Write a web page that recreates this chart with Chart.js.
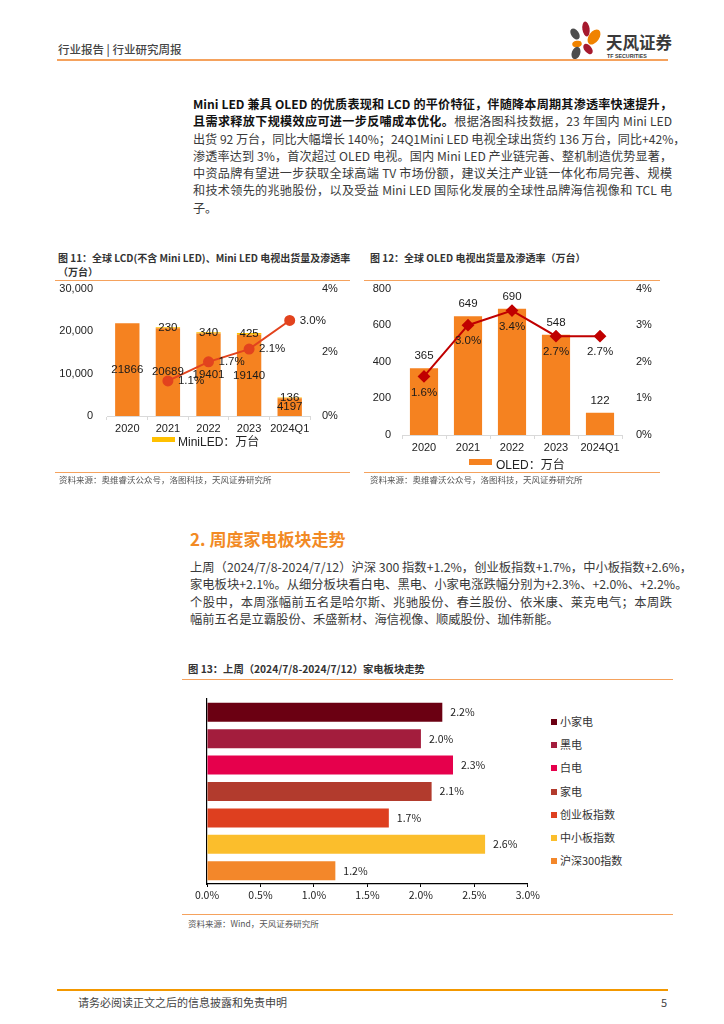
<!DOCTYPE html>
<html lang="zh-CN">
<head>
<meta charset="utf-8">
<title>行业研究周报</title>
<script src="https://cdn.jsdelivr.net/npm/chart.js@4.4.1/dist/chart.umd.min.js"></script>
<style>
  html, body { margin: 0; padding: 0; background: #fff; }
  #page { position: relative; width: 724px; height: 1024px; overflow: hidden;
          font-family: "Noto Sans CJK SC", "Liberation Sans", sans-serif; color: #3a3a3a; }
  .abs { position: absolute; white-space: nowrap; }
  .hline { position: absolute; height: 0; }
  .para div { height: 17.3px; line-height: 17.3px; text-align: justify; text-align-last: justify; white-space: nowrap; }
  .para div.last { text-align-last: left; }
  .ctitle { font-size: 10px; font-weight: bold; color: #333; }
  .src { font-size: 8.5px; color: #555; }
  .lg { position: absolute; font-family: "Liberation Sans", "Noto Sans CJK SC", sans-serif; font-size: 12px; color: #222; white-space: nowrap; }
  .lg i { position: absolute; display: block; }
  .lg span { position: absolute; top: 0; white-space: nowrap; }
  canvas { position: absolute; }
  .leg13 { position: absolute; left: 551px; font-size: 11px; color: #333; }
  .leg13 div { position: absolute; left: 0; white-space: nowrap; height: 14px; line-height: 14px; }
  .leg13 i { display: inline-block; width: 6px; height: 6px; margin-right: 3px; vertical-align: 1px; }
</style>
</head>
<body>
<div id="page">
  <!-- 页眉 -->
  <div class="abs" style="left:58px; top:41px; font-size:11.5px; color:#444; font-weight:500;">行业报告 | 行业研究周报</div>
  <svg class="abs" style="left:566px; top:18px;" width="110" height="46" viewBox="0 0 110 46">
    <ellipse cx="20" cy="11" rx="3.6" ry="7.5" fill="#A6192E" transform="rotate(-8 20 11)"/>
    <ellipse cx="9" cy="16" rx="3.8" ry="6.2" fill="#4D4D4D" transform="rotate(-35 9 16)"/>
    <ellipse cx="28" cy="19" rx="5.2" ry="8.5" fill="#F08300" transform="rotate(35 28 19)"/>
    <ellipse cx="11" cy="26" rx="4.8" ry="3.2" fill="#F08300" transform="rotate(-10 11 26)"/>
    <ellipse cx="10" cy="35" rx="4.2" ry="6.5" fill="#4D4D4D" transform="rotate(20 10 35)"/>
    <ellipse cx="22" cy="31" rx="3.6" ry="6" fill="#A6192E" transform="rotate(-40 22 31)"/>
    <text x="40" y="31" font-size="16.5" font-weight="bold" fill="#3a3a3a" font-family="Noto Sans CJK SC">天风证券</text>
    <text x="41" y="40" font-size="5.3" font-weight="bold" fill="#3a3a3a" font-family="Liberation Sans">TF SECURITIES</text>
  </svg>
  <div class="hline" style="left:57px; width:611px; top:59px; border-top:2px solid #F5A25D;"></div>

  <!-- 正文 1 -->
  <div class="abs para" style="left:193px; top:95px; width:479px; font-size:12.1px;">
    <div style="color:#111; font-weight:bold;">Mini LED 兼具 OLED 的优质表现和 LCD 的平价特征，伴随降本周期其渗透率快速提升，</div>
    <div><b style="color:#111;">且需求释放下规模效应可进一步反哺成本优化。</b>根据洛图科技数据，23 年国内 Mini LED</div>
    <div>出货 92 万台，同比大幅增长 140%；24Q1Mini LED 电视全球出货约 136 万台，同比+42%，</div>
    <div>渗透率达到 3%，首次超过 OLED 电视。国内 Mini LED 产业链完善、整机制造优势显著，</div>
    <div>中资品牌有望进一步获取全球高端 TV 市场份额，建议关注产业链一体化布局完善、规模</div>
    <div>和技术领先的兆驰股份，以及受益 Mini LED 国际化发展的全球性品牌海信视像和 TCL 电</div>
    <div class="last">子。</div>
  </div>

  <!-- 图 11 -->
  <div class="abs ctitle" style="left:58px; top:250px;">图 11：全球 LCD(不含 Mini LED)、Mini LED 电视出货量及渗透率</div>
  <div class="abs ctitle" style="left:58px; top:264px;">（万台）</div>
  <canvas id="chart11" width="300" height="182" style="left:52px; top:268px;"></canvas>
  <div class="hline" style="left:55px; width:295px; top:280px; border-top:1px solid #F5A25D;"></div>
  <div class="lg" style="left:152px; top:432px;"><i style="left:0; top:5px; width:23px; height:5px; background:#FFC000;"></i><span style="left:26px;">MiniLED：万台</span></div>
  <div class="hline" style="left:55px; width:295px; top:472px; border-top:1px solid #F5A25D;"></div>
  <div class="abs src" style="left:59px; top:473px;">资料来源：奥维睿沃公众号，洛图科技，天风证券研究所</div>

  <!-- 图 12 -->
  <div class="abs ctitle" style="left:370px; top:250px;">图 12：全球 OLED 电视出货量及渗透率（万台）</div>
  <canvas id="chart12" width="300" height="199" style="left:362px; top:268px;"></canvas>
  <div class="hline" style="left:364px; width:296px; top:280px; border-top:1px solid #F5A25D;"></div>
  <div class="lg" style="left:469px; top:455px;"><i style="left:0; top:4px; width:23px; height:6px; background:#F58220;"></i><span style="left:27px;">OLED：万台</span></div>
  <div class="hline" style="left:364px; width:296px; top:472px; border-top:1px solid #F5A25D;"></div>
  <div class="abs src" style="left:370px; top:473px;">资料来源：奥维睿沃公众号，洛图科技，天风证券研究所</div>

  <!-- 第 2 节 -->
  <div class="abs" style="left:190px; top:526px; font-size:17px; font-weight:bold; color:#F28A24;">2. 周度家电板块走势</div>
  <div class="abs para" style="left:190px; top:559px; width:482px; font-size:12.3px;">
    <div>上周（2024/7/8-2024/7/12）沪深 300 指数+1.2%，创业板指数+1.7%，中小板指数+2.6%，</div>
    <div>家电板块+2.1%。从细分板块看白电、黑电、小家电涨跌幅分别为+2.3%、+2.0%、+2.2%。</div>
    <div>个股中，本周涨幅前五名是哈尔斯、兆驰股份、春兰股份、依米康、莱克电气；本周跌</div>
    <div class="last">幅前五名是立霸股份、禾盛新材、海信视像、顺威股份、珈伟新能。</div>
  </div>

  <!-- 图 13 -->
  <div class="abs ctitle" style="left:188px; top:661px; font-size:10.3px;">图 13：上周（2024/7/8-2024/7/12）家电板块走势</div>
  <div class="hline" style="left:182px; width:491px; top:679px; border-top:1px solid #F5A25D;"></div>
  <canvas id="chart13" width="360" height="222" style="left:182px; top:690px;"></canvas>
  <div class="leg13" id="legend13" style="top:0;"></div>
  <div class="hline" style="left:182px; width:491px; top:914px; border-top:1px solid #F5A25D;"></div>
  <div class="abs src" style="left:188px; top:917px;">资料来源：Wind，天风证券研究所</div>

  <!-- 页脚 -->
  <div class="hline" style="left:57px; width:611px; top:989px; border-top:2px solid #F39800;"></div>
  <div class="abs" style="left:78px; top:994px; font-size:11px; color:#444;">请务必阅读正文之后的信息披露和免责申明</div>
  <div class="abs" style="left:661px; top:994px; font-size:11px; color:#444;">5</div>
</div>

<script>
// ---- 数据 ----
const years = ['2020', '2021', '2022', '2023', '2024Q1'];
const lcdShipments = [21866, 20689, 19401, 19140, 4197];
const miniLedShipments = [null, 230, 340, 425, 136];
const miniLedRate = [null, 1.1, 1.7, 2.1, 3.0];

const oledShipments = [365, 649, 690, 548, 122];
const oledRate = [1.6, 3.0, 3.4, 2.7, 2.7];

const sectorNames = ['小家电', '黑电', '白电', '家电', '创业板指数', '中小板指数', '沪深300指数'];
const sectorChange = [2.2, 2.0, 2.3, 2.1, 1.7, 2.6, 1.2];
const sectorColors = ['#6B0012', '#A31D3D', '#E6004C', '#B23B2D', '#DE3F1F', '#FBBE2C', '#F3872A'];

const orange = '#F58220';
const axisFont = { family: 'Liberation Sans', size: 11 };

// 数据标签（没有 datalabels 插件，自己画）
const valueLabels = {
    id: 'valueLabels',
    afterDatasetsDraw(chart) {
        const ctx = chart.ctx;
        chart.data.datasets.forEach((ds, i) => {
            if (!ds.labelPos) return;
            const meta = chart.getDatasetMeta(i);
            ctx.save();
            ctx.font = ds.labelFont || '11.5px "Liberation Sans"';
            ctx.fillStyle = ds.labelColor || '#1a1a1a';
            meta.data.forEach((el, j) => {
                const v = ds.data[j];
                if (v === null || v === undefined) return;
                const text = ds.labelFmt ? ds.labelFmt(v) : String(v);
                let x = el.x, y = el.y;
                ctx.textAlign = 'center';
                ctx.textBaseline = 'middle';
                if (ds.labelPos === 'center') {
                    y = (el.y + el.base) / 2;
                } else if (ds.labelPos === 'top') {
                    y = el.y - 12;
                } else if (ds.labelPos === 'below') {
                    y = el.y + 16;
                } else if (ds.labelPos === 'right') {
                    x = el.x + 10;
                    ctx.textAlign = 'left';
                } else if (ds.labelPos === 'end') {
                    x = el.x + 8;
                    ctx.textAlign = 'left';
                }
                ctx.fillText(text, x, y);
            });
            ctx.restore();
        });
    }
};

const pct = v => v.toFixed(1) + '%';

// ---- 图 11 ----
new Chart(document.getElementById('chart11'), {
    type: 'bar',
    data: {
        labels: years,
        datasets: [
            {
                type: 'line',
                label: '渗透率',
                data: miniLedRate,
                yAxisID: 'y1',
                borderColor: '#E2431E',
                backgroundColor: '#E2431E',
                borderWidth: 2,
                pointRadius: 4.5,
                pointHoverRadius: 4.5,
                order: 0,
                labelPos: 'right',
                labelFmt: pct
            },
            {
                label: 'LCD：万台',
                data: lcdShipments,
                backgroundColor: orange,
                yAxisID: 'y',
                order: 1,
                labelPos: 'center'
            },
            {
                label: 'MiniLED：万台',
                data: miniLedShipments,
                backgroundColor: '#FFC000',
                yAxisID: 'y',
                order: 1,
                labelPos: 'center'
            }
        ]
    },
    options: {
        responsive: false,
        animation: false,
        devicePixelRatio: 1,
        layout: { padding: { top: 0, left: 0, right: 0, bottom: 0 } },
        datasets: { bar: { categoryPercentage: 1, barPercentage: 0.6 } },
        scales: {
            x: {
                stacked: true,
                grid: { display: true, drawOnChartArea: false, color: '#D9D9D9', tickLength: 4 },
                border: { color: '#D9D9D9' },
                ticks: { color: '#222', font: axisFont, padding: 2, maxRotation: 0, autoSkip: false },
                afterFit: s => { s.height = 34; }
            },
            y: {
                stacked: true,
                min: 0, max: 30000,
                ticks: { stepSize: 10000, color: '#222', font: axisFont, padding: 14,
                         callback: v => v.toLocaleString('en-US') },
                grid: { display: false, drawTicks: false },
                border: { display: false },
                afterFit: s => { s.width = 55; }
            },
            y1: {
                position: 'right',
                min: 0, max: 4,
                ticks: { stepSize: 2, color: '#222', font: axisFont, padding: 12,
                         callback: v => v + '%' },
                grid: { display: false, drawTicks: false },
                border: { display: false },
                afterFit: s => { s.width = 42; }
            }
        },
        plugins: { legend: { display: false }, tooltip: { enabled: false } }
    },
    plugins: [valueLabels]
});

// ---- 图 12 ----
new Chart(document.getElementById('chart12'), {
    type: 'bar',
    data: {
        labels: years,
        datasets: [
            {
                type: 'line',
                label: '渗透率',
                data: oledRate,
                yAxisID: 'y1',
                borderColor: '#C00000',
                backgroundColor: '#C00000',
                borderWidth: 2,
                pointStyle: 'rectRot',
                pointRadius: 5,
                pointHoverRadius: 5,
                order: 0,
                labelPos: 'below',
                labelFmt: pct
            },
            {
                label: 'OLED：万台',
                data: oledShipments,
                backgroundColor: orange,
                yAxisID: 'y',
                order: 1,
                labelPos: 'top'
            }
        ]
    },
    options: {
        responsive: false,
        animation: false,
        devicePixelRatio: 1,
        layout: { padding: { top: 0 } },
        datasets: { bar: { categoryPercentage: 1, barPercentage: 0.64 } },
        scales: {
            x: {
                grid: { display: true, drawOnChartArea: false, color: '#D9D9D9', tickLength: 4 },
                border: { color: '#D9D9D9' },
                ticks: { color: '#222', font: axisFont, padding: 2, maxRotation: 0, autoSkip: false },
                afterFit: s => { s.height = 32; }
            },
            y: {
                min: 0, max: 800,
                ticks: { stepSize: 200, color: '#222', font: axisFont, padding: 11 },
                grid: { display: false, drawTicks: false },
                border: { display: false },
                afterFit: s => { s.width = 40; }
            },
            y1: {
                position: 'right',
                min: 0, max: 4,
                ticks: { stepSize: 1, color: '#222', font: axisFont, padding: 14,
                         callback: v => v + '%' },
                grid: { display: false, drawTicks: false },
                border: { display: false },
                afterFit: s => { s.width = 40; }
            }
        },
        plugins: { legend: { display: false }, tooltip: { enabled: false } }
    },
    plugins: [valueLabels]
});

// ---- 图 13 ----
new Chart(document.getElementById('chart13'), {
    type: 'bar',
    data: {
        labels: sectorNames,
        datasets: [{
            label: '涨跌幅',
            data: sectorChange,
            backgroundColor: sectorColors,
            labelPos: 'end',
            labelFmt: pct,
            labelFont: '10.5px "Noto Sans CJK SC"',
            labelColor: '#222'
        }]
    },
    options: {
        indexAxis: 'y',
        responsive: false,
        animation: false,
        devicePixelRatio: 1,
        layout: { padding: { top: 9, right: 0 } },
        datasets: { bar: { categoryPercentage: 1, barPercentage: 0.72 } },
        scales: {
            x: {
                min: 0, max: 3,
                ticks: { stepSize: 0.5, color: '#222', font: { family: 'Noto Sans CJK SC', size: 10.5 },
                         padding: 2, callback: v => v.toFixed(1) + '%' },
                grid: { display: true, drawOnChartArea: false, color: '#000', tickLength: 3 },
                border: { color: '#000', width: 1.2 },
                afterFit: s => { s.height = 28; }
            },
            y: {
                ticks: { display: false },
                grid: { display: false },
                border: { color: '#000', width: 1.2 },
                afterFit: s => { s.width = 25; }
            }
        },
        plugins: { legend: { display: false }, tooltip: { enabled: false } }
    },
    plugins: [valueLabels]
});

// 图 13 图例
const legendBox = document.getElementById('legend13');
sectorNames.forEach((name, i) => {
    const row = document.createElement('div');
    row.style.top = (714 + i * 23.2) + 'px';
    row.innerHTML = '<i style="background:' + sectorColors[i] + '"></i>' + name;
    legendBox.appendChild(row);
});
</script>
</body>
</html>
